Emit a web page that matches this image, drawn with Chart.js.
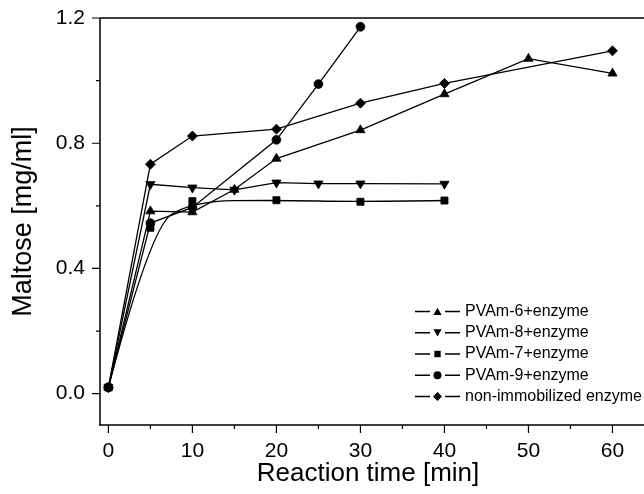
<!DOCTYPE html>
<html><head><meta charset="utf-8">
<script src="https://cdn.jsdelivr.net/npm/chart.js@4.4.0/dist/chart.umd.min.js"></script>
<style>
html,body{margin:0;padding:0;background:#fff;overflow:hidden;width:644px;height:494px;}
#wrap{position:relative;width:644px;height:494px;}
canvas{display:block;}
</style></head><body>
<div id="wrap"><canvas id="c" width="644" height="494"></canvas></div>
<script>
// ---- data ----
const xTitle = 'Reaction time [min]';
const yTitle = 'Maltose [mg/ml]';
const xTickValues = [0, 10, 20, 30, 40, 50, 60];
const xMinorTicks = [5, 15, 25, 35, 45, 55];
const yTickValues = [0.0, 0.4, 0.8, 1.2];
const yTickLabels = ['0.0', '0.4', '0.8', '1.2'];
const yMinorTicks = [0.2, 0.6, 1.0];
const seriesNames = ['PVAm-6+enzyme', 'PVAm-8+enzyme', 'PVAm-7+enzyme', 'PVAm-9+enzyme', 'non-immobilized enzyme'];

const pvam6Time = [0, 5, 10, 15, 20, 30, 40, 50, 60];
const pvam6Maltose = [0.02, 0.583, 0.58, 0.652, 0.751, 0.842, 0.957, 1.07, 1.023];

const pvam8Time = [0, 5, 10, 15, 20, 25, 30, 40];
const pvam8Maltose = [0.02, 0.669, 0.658, 0.651, 0.674, 0.671, 0.671, 0.670];

const pvam7Time = [0, 5, 10, 20, 30, 40];
const pvam7Maltose = [0.02, 0.53, 0.615, 0.618, 0.613, 0.617];

const pvam9Time = [0, 5, 10, 20, 25, 30];
const pvam9Maltose = [0.02, 0.545, 0.595, 0.811, 0.989, 1.172];

const freeTime = [0, 5, 10, 20, 30, 40, 60];
const freeMaltose = [0.02, 0.733, 0.823, 0.845, 0.928, 0.991, 1.095];

// ---- styles ----
const FONT = '"Liberation Sans", Arial, Helvetica, sans-serif';
Chart.defaults.font.family = FONT;
Chart.defaults.color = '#000';

const toXY = (xs, ys) => xs.map((x, i) => ({x: x, y: ys[i]}));
const markers = [
  {style: 'triangle', rot: 0, r: 5.3},
  {style: 'triangle', rot: 180, r: 5.3},
  {style: 'rect', rot: 0, r: 5.0},
  {style: 'circle', rot: 0, r: 4.4},
  {style: 'rectRot', rot: 0, r: 5.0}
];
const series = [
  toXY(pvam6Time, pvam6Maltose),
  toXY(pvam8Time, pvam8Maltose),
  toXY(pvam7Time, pvam7Maltose),
  toXY(pvam9Time, pvam9Maltose),
  toXY(freeTime, freeMaltose)
];

const datasets = series.map((d, i) => ({
  label: seriesNames[i],
  data: d,
  borderColor: '#000',
  backgroundColor: '#000',
  borderWidth: 1.3,
  pointStyle: markers[i].style,
  pointRotation: markers[i].rot,
  pointRadius: markers[i].r,
  pointBorderWidth: 0.8,
  pointBorderColor: '#000',
  pointBackgroundColor: '#000',
  showLine: i !== 2,   // PVAm-7 drawn with a smoothing spline below
  tension: 0,
  fill: false,
  clip: false
}));

function drawMarker(ctx, style, rot, r, x, y) {
  ctx.save();
  ctx.translate(x, y);
  ctx.rotate(rot * Math.PI / 180);
  ctx.beginPath();
  if (style === 'triangle') {
    ctx.moveTo(0, -r);
    ctx.lineTo(r * Math.sin(Math.PI / 3), r / 2);
    ctx.lineTo(-r * Math.sin(Math.PI / 3), r / 2);
    ctx.closePath();
  } else if (style === 'rect') {
    const s = r * Math.SQRT1_2;
    ctx.rect(-s, -s, 2 * s, 2 * s);
  } else if (style === 'circle') {
    ctx.arc(0, 0, r, 0, Math.PI * 2);
  } else {
    ctx.moveTo(-r, 0); ctx.lineTo(0, -r); ctx.lineTo(r, 0); ctx.lineTo(0, r); ctx.closePath();
  }
  ctx.fillStyle = '#000';
  ctx.fill();
  ctx.restore();
}

const framePlugin = {
  id: 'frame',
  beforeDatasetsDraw(chart) {
    const {ctx, chartArea: a, scales} = chart;
    const xs = scales.x, ys = scales.y;
    ctx.save();
    ctx.strokeStyle = '#000';
    ctx.lineWidth = 1.5;
    ctx.beginPath();
    ctx.moveTo(a.left, a.top); ctx.lineTo(chart.width, a.top);
    ctx.moveTo(a.left, a.top); ctx.lineTo(a.left, a.bottom);
    ctx.moveTo(a.left - 1, a.bottom); ctx.lineTo(chart.width, a.bottom);
    ctx.stroke();
    ctx.lineWidth = 1.2;
    ctx.beginPath();
    yTickValues.forEach(v => { const p = ys.getPixelForValue(v); ctx.moveTo(a.left - 8, p); ctx.lineTo(a.left, p); });
    yMinorTicks.forEach(v => { const p = ys.getPixelForValue(v); ctx.moveTo(a.left - 4, p); ctx.lineTo(a.left, p); });
    xTickValues.forEach(v => { const p = xs.getPixelForValue(v); ctx.moveTo(p, a.bottom); ctx.lineTo(p, a.bottom + 8); });
    xMinorTicks.forEach(v => { const p = xs.getPixelForValue(v); ctx.moveTo(p, a.bottom); ctx.lineTo(p, a.bottom + 4); });
    ctx.stroke();

    // B-spline style connection for PVAm-7 (through the library's point positions)
    const pts = chart.getDatasetMeta(2).data.map(p => ({x: p.x, y: p.y}));
    const n = pts.length;
    ctx.lineWidth = 1.3;
    ctx.beginPath();
    ctx.moveTo(pts[0].x, pts[0].y);
    for (let i = 1; i < n - 2; i++) {
      const mx = (pts[i].x + pts[i + 1].x) / 2, my = (pts[i].y + pts[i + 1].y) / 2;
      ctx.quadraticCurveTo(pts[i].x, pts[i].y, mx, my);
    }
    ctx.quadraticCurveTo(pts[n - 2].x, pts[n - 2].y, pts[n - 1].x, pts[n - 1].y);
    ctx.stroke();
    ctx.restore();
  },
  afterDraw(chart) {
    const {ctx} = chart;
    ctx.save();
    ctx.font = '16px ' + FONT;
    ctx.textBaseline = 'middle';
    ctx.fillStyle = '#000';
    ctx.strokeStyle = '#000';
    ctx.lineWidth = 1.3;
    const y0 = 311.5, dy = 21.25;
    seriesNames.forEach((name, i) => {
      const y = y0 + i * dy;
      ctx.beginPath();
      ctx.moveTo(415, y); ctx.lineTo(430, y);
      ctx.moveTo(445, y); ctx.lineTo(460, y);
      ctx.stroke();
      drawMarker(ctx, markers[i].style, markers[i].rot, markers[i].r * 0.9, 437.5, y + (markers[i].style === 'triangle' ? (markers[i].rot ? -1 : 1) : 0));
      ctx.fillText(name, 465, y);
    });
    ctx.restore();
  }
};

const zeroPad = s => { s.paddingTop = 0; s.paddingBottom = 0; s.paddingLeft = 0; s.paddingRight = 0; };

new Chart(document.getElementById('c'), {
  type: 'line',
  data: {datasets: datasets},
  options: {
    responsive: false,
    animation: false,
    devicePixelRatio: 1,
    layout: {padding: {left: 0, top: 18, right: 8, bottom: 0}},
    plugins: {legend: {display: false}, tooltip: {enabled: false}},
    scales: {
      x: {
        type: 'linear', min: -1, max: 62.8,
        afterFit: s => { s.height = 69; zeroPad(s); },
        afterBuildTicks: s => { s.ticks = xTickValues.map(v => ({value: v})); },
        grid: {display: false},
        border: {display: false},
        ticks: {font: {size: 21}, padding: 6, maxRotation: 0, autoSkip: false, color: '#000',
                callback: v => String(v)},
        title: {display: true, text: xTitle, font: {size: 26}, padding: {top: 0, bottom: 5}, color: '#000'}
      },
      y: {
        type: 'linear', min: -0.1, max: 1.2,
        afterFit: s => { s.width = 100; zeroPad(s); },
        afterBuildTicks: s => { s.ticks = yTickValues.map(v => ({value: v})); },
        grid: {display: false},
        border: {display: false},
        ticks: {font: {size: 21}, padding: 7, color: '#000',
                callback: (v, i) => yTickLabels[i]},
        title: {display: true, text: yTitle, font: {size: 27}, padding: {top: 7, bottom: 0}, color: '#000'}
      }
    }
  },
  plugins: [framePlugin]
});
</script>
</body></html>
